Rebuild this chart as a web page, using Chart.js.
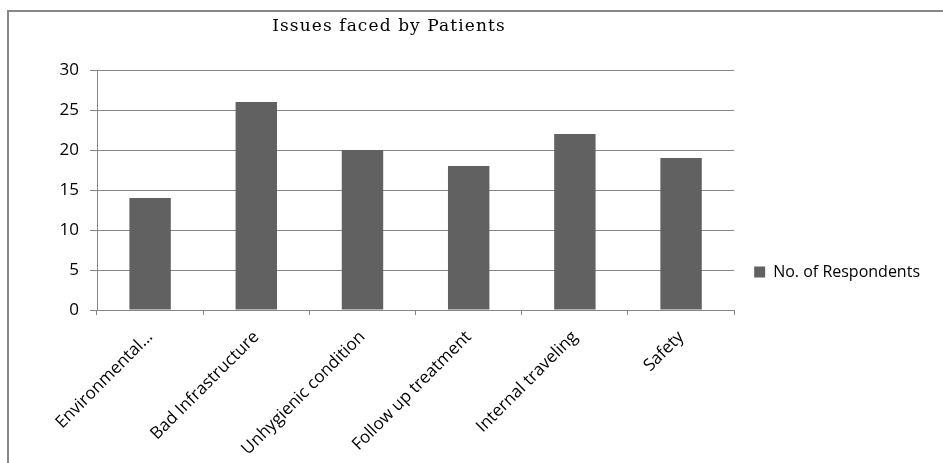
<!DOCTYPE html>
<html>
<head>
<meta charset="utf-8">
<script src="https://cdn.jsdelivr.net/npm/chart.js@4"></script>
<style>
  body { margin: 0; background: #fff; overflow: hidden; }
  #frame { position: absolute; left: 7px; top: 10px; width: 1000px; height: 600px;
           border-left: 2px solid #888; border-top: 2px solid #888; }
  #wrap { position: absolute; left: 0; top: 0; width: 943px; height: 474px; }
</style>
</head>
<body>
<div id="frame"></div>
<div id="wrap"><canvas id="issues"></canvas></div>
<script>
var categories = ['Environmental...', 'Bad Infrastructure', 'Unhygienic condition',
                  'Follow up treatment', 'Internal traveling', 'Safety'];
var respondents = [14, 26, 20, 18, 22, 19];
var yTicks = [0, 5, 10, 15, 20, 25, 30];

var titlePlugin = {
  id: 'serifTitle',
  afterDraw: function (chart) {
    var ctx = chart.ctx;
    ctx.save();
    ctx.font = '17px "DejaVu Serif"';
    ctx.letterSpacing = '1.1px';
    ctx.fillStyle = '#000';
    ctx.textAlign = 'center';
    ctx.textBaseline = 'middle';
    ctx.fillText('Issues faced by Patients', 389, 27);
    ctx.restore();
  }
};

new Chart(document.getElementById('issues'), {
  type: 'bar',
  data: {
    labels: categories,
    datasets: [{
      label: 'No. of Respondents',
      data: respondents,
      backgroundColor: '#616161',
      borderWidth: 0,
      barPercentage: 0.39,
      categoryPercentage: 1
    }]
  },
  options: {
    responsive: true,
    maintainAspectRatio: false,
    animation: false,
    layout: { padding: { top: 70, left: 0, right: 13, bottom: 0 } },
    plugins: {
      title: { display: false },
      tooltip: { enabled: false },
      legend: {
        position: 'right',
        labels: {
          boxWidth: 11,
          boxHeight: 11,
          padding: 20,
          color: '#000',
          font: { family: '"Open Sans"', size: 16 }
        }
      }
    },
    scales: {
      x: {
        afterFit: function (scale) { scale.height = 164; },
        grid: { drawOnChartArea: false, drawTicks: true, tickLength: 5, color: '#868686' },
        border: { color: '#868686' },
        ticks: {
          maxRotation: 45, minRotation: 45, color: '#000', padding: 12,
          font: { family: '"Open Sans"', size: 17 }
        }
      },
      y: {
        min: 0, max: 30,
        afterFit: function (scale) { scale.width = 97; },
        afterBuildTicks: function (scale) {
          scale.ticks = yTicks.map(function (v) { return { value: v }; });
        },
        grid: { color: '#868686', tickLength: 7 },
        border: { color: '#868686' },
        ticks: {
          padding: 11, color: '#000',
          font: { family: '"Open Sans"', size: 17 }
        }
      }
    }
  },
  plugins: [titlePlugin]
});
</script>
</body>
</html>
